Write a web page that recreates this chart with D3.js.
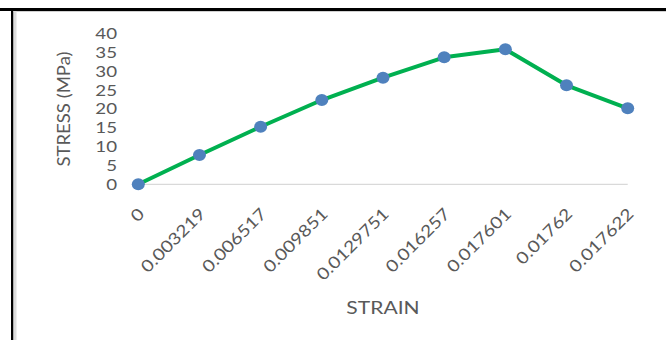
<!DOCTYPE html>
<html>
<head>
<meta charset="utf-8">
<script src="https://cdn.jsdelivr.net/npm/d3@7"></script>
<style>
  html, body { margin: 0; padding: 0; background: #fff; }
  svg { display: block; }
  text { font-family: Lato, "Open Sans", sans-serif; fill: #595959; }
</style>
</head>
<body>
<div id="chart"></div>
<script>
// Strain categories (as shown on the axis) and measured stress in MPa
const strainLabels = ["0", "0.003219", "0.006517", "0.009851", "0.0129751", "0.016257", "0.017601", "0.01762", "0.017622"];
const stressValues = [0, 7.76, 15.26, 22.33, 28.24, 33.64, 35.76, 26.23, 20.13];
const yTicks = [0, 5, 10, 15, 20, 25, 30, 35, 40];

const W = 666, H = 340;
const STRETCH = 1.17; // wide glyph look for the axis text

const svg = d3.select("#chart").append("svg").attr("width", W).attr("height", H);

// widen a text element along its own direction
function widen(sel, k) {
  sel.each(function () {
    const len = this.getComputedTextLength();
    d3.select(this).attr("textLength", len * k).attr("lengthAdjust", "spacingAndGlyphs");
  });
}

// frame edges
svg.append("rect").attr("x", 0).attr("y", 8).attr("width", W).attr("height", 3).attr("fill", "#000");
svg.append("rect").attr("x", 11).attr("y", 8).attr("width", 2.5).attr("height", H).attr("fill", "#000");
svg.append("rect").attr("x", 13.5).attr("y", 11).attr("width", W).attr("height", 1).attr("fill", "#d0d0d0");
svg.append("rect").attr("x", 13.5).attr("y", 11).attr("width", 3).attr("height", H).attr("fill", "#dcdcdc");

const x = d3.scalePoint().domain(strainLabels).range([138.3, 627.7]).padding(0);
const y = d3.scaleLinear().domain([0, 40]).range([184.3, 33.3]);

// zero baseline
svg.append("line")
  .attr("x1", x(strainLabels[0])).attr("x2", x(strainLabels[strainLabels.length - 1]))
  .attr("y1", y(0)).attr("y2", y(0))
  .attr("stroke", "#d9d9d9").attr("stroke-width", 1.2);

// y axis labels
const yAxis = d3.axisLeft(y).tickValues(yTicks).tickSize(0).tickPadding(0);
const gy = svg.append("g").attr("transform", "translate(117,0)").call(yAxis);
gy.select(".domain").remove();
gy.selectAll("text").style("font-size", "16px").attr("fill", "#595959")
  .style("font-family", "Lato, sans-serif");
widen(gy.selectAll("text"), STRETCH);

// x axis labels, rotated
const xAxis = d3.axisBottom(x).tickSize(0).tickPadding(0);
const gx = svg.append("g").call(xAxis);
gx.select(".domain").remove();
gx.selectAll(".tick").attr("transform", d => `translate(${x(d) + 7},215)`);
gx.selectAll("text")
  .attr("y", 0).attr("dy", 0)
  .attr("text-anchor", "end")
  .attr("transform", "rotate(-45)")
  .style("font-size", "16.5px").attr("fill", "#595959")
  .style("font-family", "Lato, sans-serif");
widen(gx.selectAll("text"), STRETCH);

// axis titles
const yTitle = svg.append("text")
  .attr("transform", `translate(70,109) rotate(-90)`)
  .attr("text-anchor", "middle")
  .style("font-size", "18px")
  .text("STRESS (MPa)");
widen(yTitle, 1.03);
const xTitle = svg.append("text")
  .attr("x", 383).attr("y", 314)
  .attr("text-anchor", "middle")
  .style("font-size", "18px")
  .text("STRAIN");
widen(xTitle, STRETCH);

// series line and markers
const pts = strainLabels.map((s, i) => [x(s), y(stressValues[i])]);
svg.append("path")
  .attr("d", d3.line()(pts))
  .attr("fill", "none")
  .attr("stroke", "#00b050")
  .attr("stroke-width", 4)
  .attr("stroke-linejoin", "round");
svg.selectAll("ellipse.pt").data(pts).enter().append("ellipse")
  .attr("class", "pt")
  .attr("cx", d => d[0]).attr("cy", d => d[1])
  .attr("rx", 6.5).attr("ry", 6)
  .attr("fill", "#4f81bd");
</script>
</body>
</html>
